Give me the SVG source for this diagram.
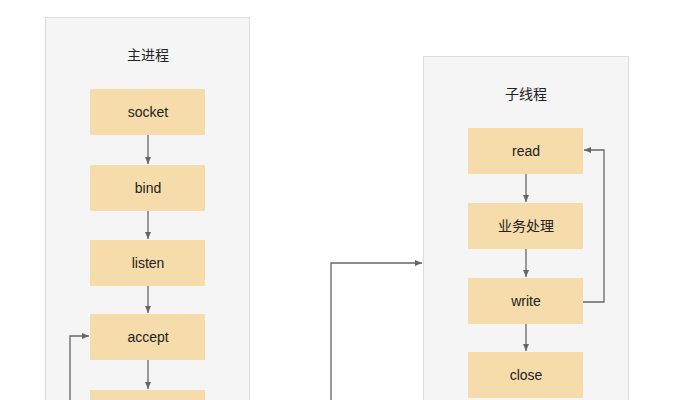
<svg xmlns="http://www.w3.org/2000/svg" width="679" height="400" viewBox="0 0 679 400">
<style>
.panel{fill:#f5f5f5;stroke:#dcdcdc;stroke-width:1}
.box{fill:#f6dcaa}
text{font-family:"Liberation Sans","Noto Sans CJK SC",sans-serif;font-size:14px;fill:#222;text-anchor:middle;dominant-baseline:central}
.c{fill:none;stroke:#666;stroke-width:1.3}
</style>
<defs><marker id="a" markerWidth="8" markerHeight="8" refX="7" refY="4" orient="auto" markerUnits="userSpaceOnUse"><path d="M0,1 L7,4 L0,7z" fill="#666"/></marker></defs>
<rect class="panel" x="45.5" y="17.5" width="204" height="400"/>
<rect class="panel" x="423.5" y="56.5" width="205" height="360"/>
<text x="148" y="55">主进程</text>
<text x="526" y="94">子线程</text>
<g id="socket"><rect class="box" x="90" y="89" width="115" height="46"/><text x="148" y="112">socket</text></g>
<g id="bind"><rect class="box" x="90" y="165" width="115" height="46"/><text x="148" y="188">bind</text></g>
<g id="listen"><rect class="box" x="90" y="240" width="115" height="46"/><text x="148" y="263">listen</text></g>
<g id="accept"><rect class="box" x="90" y="314" width="115" height="46"/><text x="148" y="337">accept</text></g>
<g id="next"><rect class="box" x="90" y="390" width="115" height="46"/></g>
<g id="read"><rect class="box" x="468" y="128" width="115" height="46"/><text x="526" y="151">read</text></g>
<g id="biz"><rect class="box" x="468" y="203" width="115" height="46"/><text x="526" y="226">业务处理</text></g>
<g id="write"><rect class="box" x="468" y="278" width="115" height="46"/><text x="526" y="301">write</text></g>
<g id="close"><rect class="box" x="468" y="352" width="115" height="46"/><text x="526" y="375">close</text></g>
<g id="connectors">
<path class="c" d="M148,135 V164" marker-end="url(#a)"/>
<path class="c" d="M148,211 V239" marker-end="url(#a)"/>
<path class="c" d="M148,286 V313" marker-end="url(#a)"/>
<path class="c" d="M148,360 V389" marker-end="url(#a)"/>
<path class="c" d="M526,174 V202" marker-end="url(#a)"/>
<path class="c" d="M526,249 V277" marker-end="url(#a)"/>
<path class="c" d="M526,324 V351" marker-end="url(#a)"/>
<path class="c" d="M583,302 H604 V150 H584" marker-end="url(#a)"/>
<path class="c" d="M70,400 V336 H89" marker-end="url(#a)"/>
<path class="c" d="M331,400 V263 H422" marker-end="url(#a)"/>
</g>
</svg>
